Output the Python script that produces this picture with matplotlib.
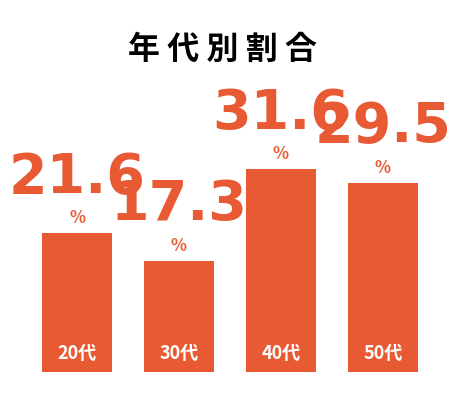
import matplotlib
matplotlib.use("Agg")
import matplotlib.pyplot as plt

plt.rcParams['font.family'] = ['Noto Sans CJK JP', 'DejaVu Sans']

title = "年代別割合"
categories = ["20代", "30代", "40代", "50代"]
values = [21.6, 17.3, 31.6, 29.5]
color = "#E85A33"

fig = plt.figure(figsize=(4.66, 4.0), dpi=100)
ax = fig.add_axes([0, 28 / 400, 1, 372 / 400])
x = range(len(values))
ax.bar(x, values, width=0.686, color=color)
ax.set_xlim(-0.755, 3.814)
ax.set_ylim(0, 58)
ax.axis('off')

for i, (v, c) in enumerate(zip(values, categories)):
    ax.annotate("%", (i, v), xytext=(0, 11), textcoords='offset points',
                ha='center', va='center', color=color, fontsize=12, fontweight='bold')
    ax.annotate(f"{v:.1f}", (i, v), xytext=(0, 40), textcoords='offset points',
                ha='center', va='center', color=color, fontsize=40, fontweight='bold',
                family=['Liberation Sans Narrow', 'DejaVu Sans'])
    ax.annotate(c, (i, 0), xytext=(0, 13), textcoords='offset points',
                ha='center', va='center', color='white', fontsize=13, fontweight='bold')

fig.text(222 / 466, 1 - 50 / 400, " ".join(title), ha='center', va='center',
         fontsize=23, fontweight='bold', color='black')

fig.savefig("out.png", dpi=100, facecolor='white')
